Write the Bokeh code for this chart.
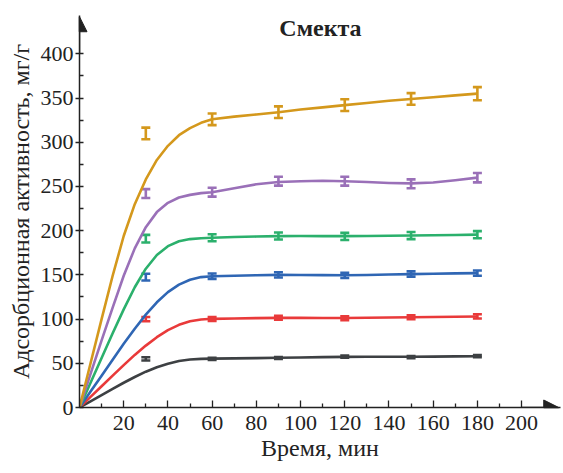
from bokeh.plotting import figure
from bokeh.models import (Whisker, TeeHead, Arrow, NormalHead, Label,
                          ColumnDataSource, FixedTicker, Range1d)
from bokeh.embed import file_html
from bokeh.resources import INLINE

# ---- data ----
time_points = [30, 60, 90, 120, 150, 180]
curve_x = [0, 5, 10, 15, 20, 25, 30, 35, 40, 45, 50, 55, 60,
           70, 80, 90, 100, 110, 120, 130, 140, 150, 160, 170, 180]

gold_vals = [310, 326, 334, 342, 349, 355]
gold_err = [6.6, 6.6, 6.6, 6.6, 6.6, 7.4]
gold_curve = [0, 50, 100, 149, 194, 230, 258, 280, 296, 308, 316, 322, 326,
              329, 331.5, 334, 337, 339.5, 342, 344.5, 347, 349, 351, 353, 355]

purple_vals = [242, 243.5, 256, 256, 253, 260]
purple_err = [5, 5, 5, 5, 5, 5.3]
purple_curve = [0, 38, 76, 113, 149, 180, 204, 221, 231.5, 237.5, 240.5, 242.5, 243.5,
                248, 252.5, 255, 256, 256.5, 256, 255, 254, 253.5, 254.5, 257, 260]

green_vals = [191, 192, 194, 193.5, 194.5, 195.5]
green_err = [4.3, 4, 4, 4, 4, 4]
green_curve = [0, 28, 56, 84, 111, 136, 157, 172.5, 182.5, 188, 190.5, 191.5, 192,
               192.8, 193.4, 193.8, 194, 193.9, 193.8, 194, 194.3, 194.6, 194.9, 195.2, 195.5]

blue_vals = [147.5, 148.5, 150, 149.5, 151, 152]
blue_err = [3.8, 3, 3, 3, 3, 3]
blue_curve = [0, 18, 36, 54, 72, 89, 105, 119, 130.5, 139, 144.5, 147.5, 148.5,
              149, 149.6, 150, 149.9, 149.7, 149.6, 149.9, 150.4, 150.9, 151.3, 151.7, 152]

red_vals = [100, 100, 101.5, 101, 102, 103]
red_err = [2.4, 2.2, 2.2, 2.2, 2.2, 2.4]
red_curve = [0, 12, 24, 36, 48, 59.5, 70, 79.5, 87.5, 93.5, 97.5, 99.5, 100.3,
             100.7, 101.1, 101.4, 101.4, 101.3, 101.3, 101.5, 101.8, 102.1, 102.4, 102.7, 103]

black_vals = [55, 55, 56, 57.5, 57, 58]
black_err = [1.9, 1.2, 1.2, 1.2, 1.2, 1.2]
black_curve = [0, 7, 14, 21, 28, 34.5, 40.5, 45.5, 49.5, 52.5, 54.3, 55, 55.3,
               55.6, 55.9, 56.2, 56.6, 57, 57.3, 57.4, 57.4, 57.4, 57.6, 57.8, 58]

x_ticks = [20, 40, 60, 80, 100, 120, 140, 160, 180, 200]
x_minor = [10, 30, 50, 70, 90, 110, 130, 150, 170, 190]
y_ticks = [0, 50, 100, 150, 200, 250, 300, 350, 400]
y_minor = [25, 75, 125, 175, 225, 275, 325, 375]

title_text = "Смекта"
x_label = "Время, мин"
y_label = "Адсорбционная активность, мг/г"

series = [
    (black_curve, black_vals, black_err, "#3d4043"),
    (red_curve, red_vals, red_err, "#e93a3a"),
    (blue_curve, blue_vals, blue_err, "#2f66b4"),
    (green_curve, green_vals, green_err, "#2bb06c"),
    (purple_curve, purple_vals, purple_err, "#9a70b8"),
    (gold_curve, gold_vals, gold_err, "#d4981c"),
]

FONT = "Liberation Serif"
INK = "#222222"

p = figure(width=563, height=473,
           x_range=Range1d(0, 217.6), y_range=Range1d(0, 443.4),
           output_backend="svg", toolbar_location=None,
           min_border_left=79, min_border_right=3,
           min_border_top=15, min_border_bottom=66)
p.outline_line_color = None
p.grid.visible = False
p.background_fill_color = "white"

for curve, vals, err, color in series:
    p.line(curve_x, curve, line_color=color, line_width=2.6, line_join="round")
    src = ColumnDataSource(dict(
        x=time_points,
        upper=[v + e for v, e in zip(vals, err)],
        lower=[v - e for v, e in zip(vals, err)],
    ))
    w = Whisker(source=src, base="x", upper="upper", lower="lower",
                line_color=color, line_width=2.6,
                upper_head=TeeHead(size=9, line_color=color, line_width=2.6),
                lower_head=TeeHead(size=9, line_color=color, line_width=2.6))
    p.add_layout(w)

# axes
xa = p.xaxis[0]
xa.ticker = FixedTicker(ticks=x_ticks, minor_ticks=x_minor)
xa.major_tick_in = 7
xa.major_tick_out = 0
xa.minor_tick_in = 4
xa.minor_tick_out = 0
xa.major_label_standoff = 8
xa.axis_label = x_label
xa.axis_label_standoff = 2

ya = p.yaxis[0]
ya.ticker = FixedTicker(ticks=y_ticks, minor_ticks=y_minor)
ya.major_tick_in = 4
ya.major_tick_out = 4
ya.minor_tick_in = 4
ya.minor_tick_out = 0
ya.major_label_standoff = 2
ya.axis_label = y_label
ya.axis_label_standoff = 4

for ax in (xa, ya):
    ax.axis_line_color = INK
    ax.axis_line_width = 1.5
    ax.major_tick_line_color = INK
    ax.minor_tick_line_color = INK
    ax.major_tick_line_width = 1.3
    ax.minor_tick_line_width = 1.3
    ax.major_label_text_font = FONT
    ax.major_label_text_font_size = "22px"
    ax.major_label_text_color = INK
    ax.axis_label_text_font = FONT
    ax.axis_label_text_font_size = "24px"
    ax.axis_label_text_font_style = "normal"
    ax.axis_label_text_color = INK

# arrow heads on axes
p.add_layout(Arrow(x_start=0, y_start=400, x_end=0, y_end=442,
                   line_color=INK, line_width=1.5,
                   end=NormalHead(size=15, fill_color=INK, line_color=INK)))
p.add_layout(Arrow(x_start=200, y_start=0, x_end=216.8, y_end=0,
                   line_color=INK, line_width=1.5,
                   end=NormalHead(size=15, fill_color=INK, line_color=INK)))

p.add_layout(Label(x=109, y=428.7, text=title_text, text_font=FONT,
                   text_font_style="bold", text_font_size="24px",
                   text_align="center", text_baseline="middle",
                   text_color=INK))

open("out.html", "w").write(file_html(p, INLINE))
